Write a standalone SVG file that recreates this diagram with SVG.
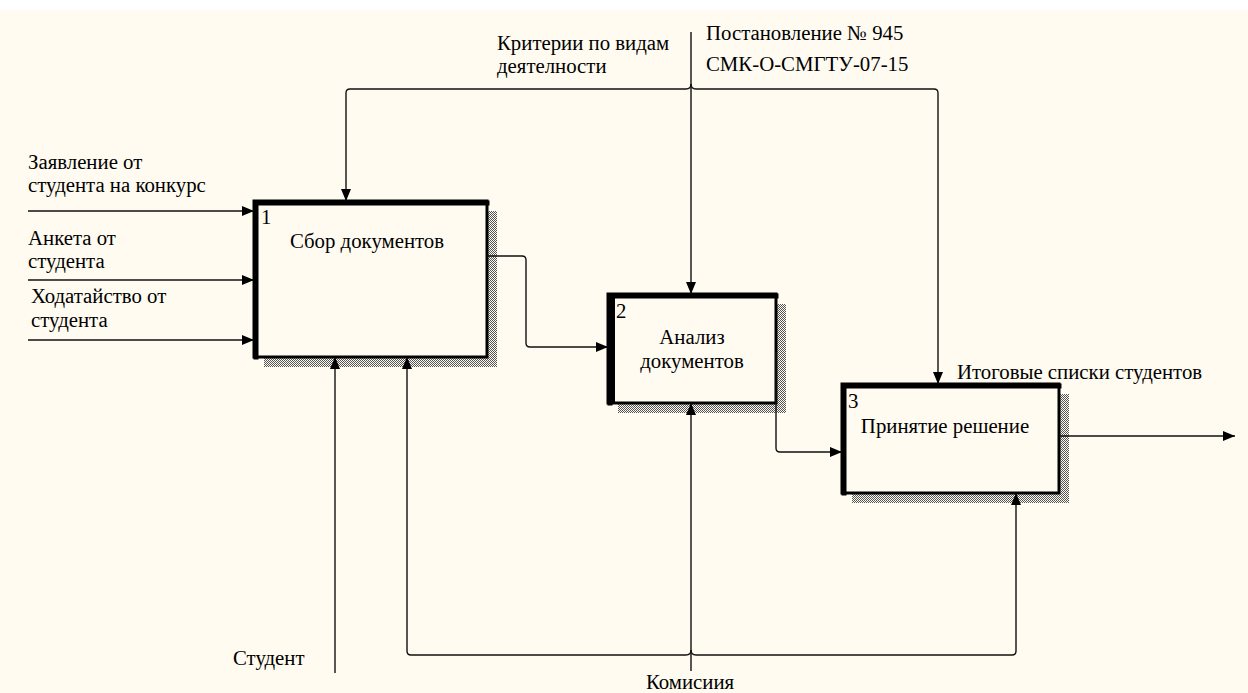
<svg xmlns="http://www.w3.org/2000/svg" width="1248" height="693" viewBox="0 0 1248 693">
<style>
text{font-family:"Liberation Serif","Times New Roman",serif;font-size:20.8px;fill:#000}
.c{fill:none;stroke:#111;stroke-width:1.4}
.box{fill:#fffbf0;stroke:#000;stroke-width:3}
.edge{stroke:#000;stroke-width:5;fill:none;stroke-linecap:square}
.sh{fill:url(#hatch)}
</style>
<defs>
<pattern id="hatch" width="2" height="2" patternUnits="userSpaceOnUse">
<rect width="2" height="2" fill="#fffbf0"/>
<rect x="0" y="0" width="1" height="1" fill="#555"/>
<rect x="1" y="1" width="1" height="1" fill="#555"/>
</pattern>
<marker id="ah" viewBox="0 0 12 10" refX="12" refY="5" markerWidth="12" markerHeight="10" markerUnits="userSpaceOnUse" orient="auto">
<path d="M0,0 L12,5 L0,10 Z" fill="#000"/>
</marker>
</defs>
<rect x="0" y="0" width="1248" height="693" fill="#fffbf0"/>
<rect x="0" y="0" width="1248" height="10" fill="#ffffff"/>

<g id="node1">
<rect class="sh" x="264" y="211" width="233" height="156"/>
<rect class="box" x="254" y="201" width="233" height="156"/>
<path class="edge" d="M256,357 V203 H487"/>
<text x="261" y="224">1</text>
<text x="367" y="248" text-anchor="middle">Сбор документов</text>
</g>

<g id="node2">
<rect class="sh" x="618" y="304" width="168" height="109"/>
<rect class="box" x="608" y="294" width="168" height="109"/>
<path class="edge" d="M610,403 V296 H776"/>
<path stroke="#000" stroke-width="4" d="M613,296 V403"/>
<text x="616" y="318">2</text>
<text x="692" y="344" text-anchor="middle">Анализ</text>
<text x="692" y="368" text-anchor="middle">документов</text>
</g>

<g id="node3">
<rect class="sh" x="852" y="394" width="217" height="109"/>
<rect class="box" x="842" y="384" width="217" height="109"/>
<path class="edge" d="M844,493 V386 H1059"/>
<text x="848" y="408">3</text>
<text x="945" y="433" text-anchor="middle">Принятие решение</text>
</g>

<g id="connectors">
<path class="c" d="M28,211 H254" marker-end="url(#ah)"/>
<path class="c" d="M28,280 H254" marker-end="url(#ah)"/>
<path class="c" d="M28,340 H254" marker-end="url(#ah)"/>
<path class="c" d="M691,32 V294" marker-end="url(#ah)"/>
<path class="c" d="M691,84 Q691,89 686,89 H350 Q346,89 346,93 V201" marker-end="url(#ah)"/>
<path class="c" d="M691,84 Q691,89 696,89 H934 Q938,89 938,93 V384" marker-end="url(#ah)"/>
<path class="c" d="M487,256 H522 Q526,256 526,260 V343 Q526,347 530,347 H608" marker-end="url(#ah)"/>
<path class="c" d="M776,352 V448 Q776,452 780,452 H842" marker-end="url(#ah)"/>
<path class="c" d="M1059,436 H1235" marker-end="url(#ah)"/>
<path class="c" d="M335,673 V357" marker-end="url(#ah)"/>
<path class="c" d="M691,671 V403" marker-end="url(#ah)"/>
<path class="c" d="M691,650 Q691,655 686,655 H411 Q407,655 407,651 V357" marker-end="url(#ah)"/>
<path class="c" d="M691,650 Q691,655 696,655 H1012 Q1016,655 1016,651 V493" marker-end="url(#ah)"/>
</g>

<g id="labels">
<text x="28" y="169">Заявление от</text>
<text x="28" y="192">студента на конкурс</text>
<text x="28" y="245">Анкета от</text>
<text x="28" y="268">студента</text>
<text x="31" y="303">Ходатайство от</text>
<text x="31" y="327">студента</text>
<text x="497" y="50">Критерии по видам</text>
<text x="497" y="73">деятелности</text>
<text x="706" y="40">Постановление № 945</text>
<text x="706" y="71">СМК-О-СМГТУ-07-15</text>
<text x="957" y="379">Итоговые списки студентов</text>
<text x="233" y="665">Студент</text>
<text x="690" y="689" text-anchor="middle">Комисиия</text>
</g>
</svg>
